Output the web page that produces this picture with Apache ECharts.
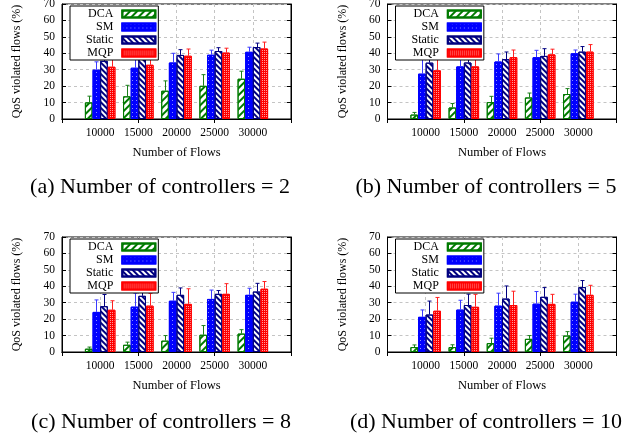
<!DOCTYPE html>
<html><head><meta charset="utf-8">
<script src="https://cdn.jsdelivr.net/npm/echarts@6/dist/echarts.min.js"></script>
<style>html,body{margin:0;padding:0;background:#fff}#c{width:637px;height:435px}</style>
</head><body><div id="c"></div>
<script>
// ---- data ----
const flows = ['10000', '15000', '20000', '25000', '30000'];
const seriesNames = ['DCA', 'SM', 'Static', 'MQP'];
const captions = ['(a) Number of controllers = 2', '(b) Number of controllers = 5',
                  '(c) Number of controllers = 8', '(d) Number of controllers = 10'];

// panel (a): 2 controllers  (bar value, upper end of error bar)
const aDCA = [10.1, 13.8, 17.2, 20.2, 24.5],   aDCAup = [13.9, 20.5, 23.2, 27.0, 29.1];
const aSM = [30.0, 31.2, 34.4, 39.1, 40.9],    aSMup = [34.8, 38.8, 40.0, 41.9, 43.7];
const aStatic = [35.4, 37.8, 39.0, 41.4, 43.8], aStaticup = [40.0, 41.0, 42.2, 43.4, 46.2];
const aMQP = [31.8, 33.0, 38.5, 40.4, 42.9],   aMQPup = [37.5, 37.4, 42.6, 43.1, 46.8];
// panel (b): 5 controllers
const bDCA = [2.7, 7.0, 10.3, 13.1, 15.2],     bDCAup = [4.0, 9.4, 13.8, 15.8, 18.5];
const bSM = [27.6, 32.0, 35.0, 37.6, 40.0],    bSMup = [37.0, 36.5, 39.6, 41.8, 42.0];
const bStatic = [34.3, 34.4, 36.4, 38.4, 41.0], bStaticup = [39.2, 40.5, 40.8, 42.8, 44.1];
const bMQP = [29.6, 32.0, 37.6, 39.3, 41.0],   bMQPup = [37.0, 36.5, 42.0, 42.5, 45.3];
// panel (c): 8 controllers
const cDCA = [2.0, 4.4, 6.9, 10.5, 11.2],      cDCAup = [3.0, 6.0, 10.0, 16.1, 13.6];
const cSM = [24.4, 27.6, 31.2, 32.3, 34.8],    cSMup = [31.7, 35.8, 36.3, 37.7, 38.8];
const cStatic = [27.9, 34.2, 34.8, 35.4, 36.8], cStaticup = [35.0, 40.0, 39.0, 37.4, 41.8];
const cMQP = [25.7, 28.2, 29.3, 35.4, 38.5],   cMQPup = [31.2, 35.7, 38.5, 41.6, 42.9];
// panel (d): 10 controllers
const dDCA = [3.0, 3.0, 5.4, 8.0, 10.0],       dDCAup = [4.3, 4.4, 8.4, 10.0, 12.4];
const dSM = [21.4, 25.8, 28.2, 29.4, 30.6],    dSMup = [25.6, 31.5, 35.8, 36.8, 35.2];
const dStatic = [22.8, 28.6, 32.5, 33.6, 39.5], dStaticup = [31.0, 35.2, 40.2, 39.2, 43.5];
const dMQP = [25.1, 27.5, 28.6, 29.3, 34.8],   dMQPup = [33.2, 35.1, 37.0, 35.1, 40.6];

const panelVals = [[aDCA, aSM, aStatic, aMQP], [bDCA, bSM, bStatic, bMQP],
                   [cDCA, cSM, cStatic, cMQP], [dDCA, dSM, dStatic, dMQP]];
const panelUps = [[aDCAup, aSMup, aStaticup, aMQPup], [bDCAup, bSMup, bStaticup, bMQPup],
                  [cDCAup, cSMup, cStaticup, cMQPup], [dDCAup, dSMup, dStaticup, dMQPup]];

// ---- styles / layout ----
const FONT = "'Liberation Serif','Times New Roman',serif";
const gridPos = [{left: 62, top: 4}, {left: 387.5, top: 4}, {left: 62, top: 237}, {left: 387.5, top: 237}];
const GW = 229, GH = 115;
const capPos = [[160, 187], [486, 187], [161, 422], [486, 422]];
const fills = ['#ffffff', '#0000ff', '#ffffff', '#ff0000'];
const borders = ['#007a00', '#0000ff', '#000080', '#ff0000'];
const errColors = ['#1b7f1b', '#3a3aff', '#000080', '#ff2020'];
const decals = [
  {symbol: 'rect', color: '#007a00', dashArrayX: [1, 0], dashArrayY: [1.4, 2.4], rotation: -Math.PI / 4},
  {symbol: 'rect', color: '#8c8cff', dashArrayX: [1, 3], dashArrayY: [1, 3]},
  {symbol: 'rect', color: '#000080', dashArrayX: [1, 0], dashArrayY: [1.4, 1.8], rotation: Math.PI / 4},
  {symbol: 'rect', color: '#ff9c9c', dashArrayX: [1, 1], dashArrayY: [1, 1]}
];
const BARFRAC = 0.2;
const cats = [''].concat(flows).concat(['']);

function errRender(sIdx, color) {
  return function (params, api) {
    const x = api.value(0), v = api.value(1), up = api.value(2);
    const band = api.size([1, 0])[0];
    const off = (sIdx - 1.5) * band * BARFRAC;
    const p0 = api.coord([x, v]), p1 = api.coord([x, up]);
    const cx = Math.round(p0[0] + off) + 0.5;
    const cap = 2;
    return {type: 'group', children: [
      {type: 'line', shape: {x1: cx, y1: p0[1], x2: cx, y2: p1[1]}, style: {stroke: color, lineWidth: 1}},
      {type: 'line', shape: {x1: cx - cap, y1: p1[1], x2: cx + cap, y2: p1[1]}, style: {stroke: color, lineWidth: 1}}
    ]};
  };
}

const grid = [], xAxis = [], yAxis = [], series = [], legend = [];
gridPos.forEach((g, p) => {
  grid.push({left: g.left, top: g.top, width: GW, height: GH, show: true, borderColor: '#000', borderWidth: 1,
             backgroundColor: 'transparent', outerBoundsMode: 'none', containLabel: false});
  const tick = {show: true, inside: true, length: 4, lineStyle: {color: '#000', width: 1}};
  xAxis.push({type: 'category', gridIndex: p, data: cats, boundaryGap: false, position: 'bottom',
    axisLine: {show: true, lineStyle: {color: '#000'}}, axisTick: tick,
    axisLabel: {fontFamily: FONT, fontSize: 11.5, color: '#000', margin: 8, interval: 0},
    splitLine: {show: true, lineStyle: {color: '#c4c4c4', type: [3, 3], width: 1}},
    name: 'Number of Flows', nameLocation: 'middle', nameGap: 27,
    nameTextStyle: {fontFamily: FONT, fontSize: 12.5, color: '#000'}});
  xAxis.push({type: 'category', gridIndex: p, data: cats, boundaryGap: false, position: 'top',
    axisLine: {show: true, lineStyle: {color: '#000'}}, axisTick: tick, axisLabel: {show: false},
    splitLine: {show: false}});
  yAxis.push({type: 'value', gridIndex: p, min: 0, max: 70, interval: 10, position: 'left',
    axisLine: {show: true, lineStyle: {color: '#000'}}, axisTick: tick,
    axisLabel: {fontFamily: FONT, fontSize: 11.5, color: '#000', margin: 7},
    splitLine: {show: true, lineStyle: {color: '#c4c4c4', type: [3, 3], width: 1}},
    name: 'QoS violated flows (%)', nameLocation: 'middle', nameGap: 39,
    nameTextStyle: {fontFamily: FONT, fontSize: 12, color: '#000'}});
  yAxis.push({type: 'value', gridIndex: p, min: 0, max: 70, interval: 10, position: 'right',
    axisLine: {show: true, lineStyle: {color: '#000'}}, axisTick: tick, axisLabel: {show: false},
    splitLine: {show: false}});
  seriesNames.forEach((name, s) => {
    const vals = panelVals[p][s], ups = panelUps[p][s];
    series.push({type: 'bar', name: name, xAxisIndex: p * 2, yAxisIndex: p * 2,
      data: vals.map((v, i) => [i + 1, v]), barWidth: (BARFRAC * 100) + '%', barGap: '0%',
      itemStyle: {color: fills[s], borderColor: borders[s], borderWidth: 1, decal: decals[s]},
      emphasis: {disabled: true}, silent: true, animation: false});
    series.push({type: 'custom', name: name + ' err ' + p, xAxisIndex: p * 2, yAxisIndex: p * 2,
      data: vals.map((v, i) => [i + 1, v, ups[i]]), renderItem: errRender(s, errColors[s]),
      z: 3, silent: true, animation: false});
  });
  legend.push({orient: 'vertical', align: 'right', left: g.left + 8, top: g.top + 2,
    padding: [2, 2, 1, 16], itemWidth: 33, itemHeight: 7, itemGap: 1, icon: 'rect',
    borderColor: '#000', borderWidth: 1, backgroundColor: '#fff', borderRadius: 0,
    selectedMode: false, data: seriesNames, z: 10,
    textStyle: {fontFamily: FONT, fontSize: 12, color: '#000', lineHeight: 11.5, padding: [0, 4, 0, 0]}});
});

const option = {
  backgroundColor: '#fff', animation: false,
  grid, xAxis, yAxis, series, legend,
  tooltip: {show: false},
  graphic: captions.map((t, i) => ({type: 'text', x: capPos[i][0], y: capPos[i][1],
    style: {text: t, fontFamily: FONT, fontSize: 22, fill: '#000',
            textAlign: 'center', textVerticalAlign: 'middle', align: 'center', verticalAlign: 'middle'}}))
};
const chart = echarts.init(document.getElementById('c'), null, {renderer: 'canvas'});
chart.setOption(option);
</script></body></html>
